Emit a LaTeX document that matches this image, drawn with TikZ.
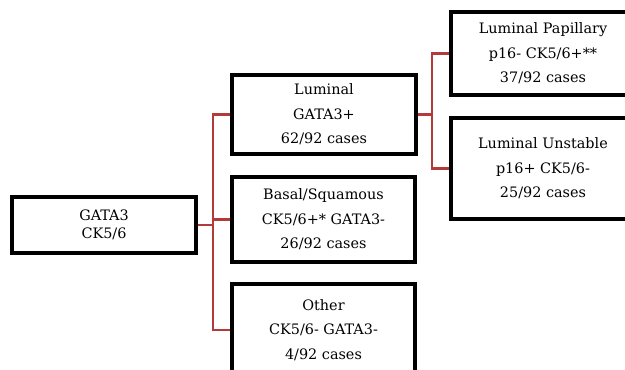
\documentclass[tikz,border=0pt]{standalone}
\usepackage{fontspec}
\setmainfont{DejaVu Serif}
\definecolor{linkred}{RGB}{178,58,58}
\begin{document}
\begin{tikzpicture}[x=1pt,y=-1pt,
  box/.style={draw=black,line width=3.2pt,fill=white,align=center,inner sep=0pt,
    font=\fontsize{14.4}{24.5}\selectfont},
  link/.style={draw=linkred,line width=2.6pt}]
\useasboundingbox (0,0) rectangle (625,370);
\clip (0,0) rectangle (625,370);
\fill[white] (0,0) rectangle (625,370);
\node[box,minimum width=184pt,minimum height=56pt,font=\fontsize{14.4}{17.5}\selectfont] (root) at (104,225) {GATA3\\CK5/6};
\node[box,minimum width=184pt,minimum height=79pt] (lum) at (324,114.5) {Luminal\\GATA3+\\62/92 cases};
\node[box,minimum width=183pt,minimum height=85pt] (bas) at (323.5,219.5) {Basal/Squamous\\CK5/6+* GATA3-\\26/92 cases};
\node[box,minimum width=183pt,minimum height=92pt] (oth) at (323.5,330) {Other\\CK5/6- GATA3-\\4/92 cases};
\node[box,minimum width=184pt,minimum height=83pt] (lp) at (543,53.5) {Luminal Papillary\\p16- CK5/6+**\\37/92 cases};
\node[box,minimum width=184pt,minimum height=101pt] (lu) at (543,168.5) {Luminal Unstable\\p16+ CK5/6-\\25/92 cases};
\coordinate (j1) at (213,225);
\coordinate (j2) at (432,114.5);
\draw[link] (root.east) -- (j1);
\draw[link] (j1) |- (lum.west);
\draw[link] (j1) |- (bas.west);
\draw[link] (j1) |- (oth.west);
\draw[link] (lum.east) -- (j2);
\draw[link] (j2) |- (lp.west);
\draw[link] (j2) |- (lu.west);
\end{tikzpicture}
\end{document}
